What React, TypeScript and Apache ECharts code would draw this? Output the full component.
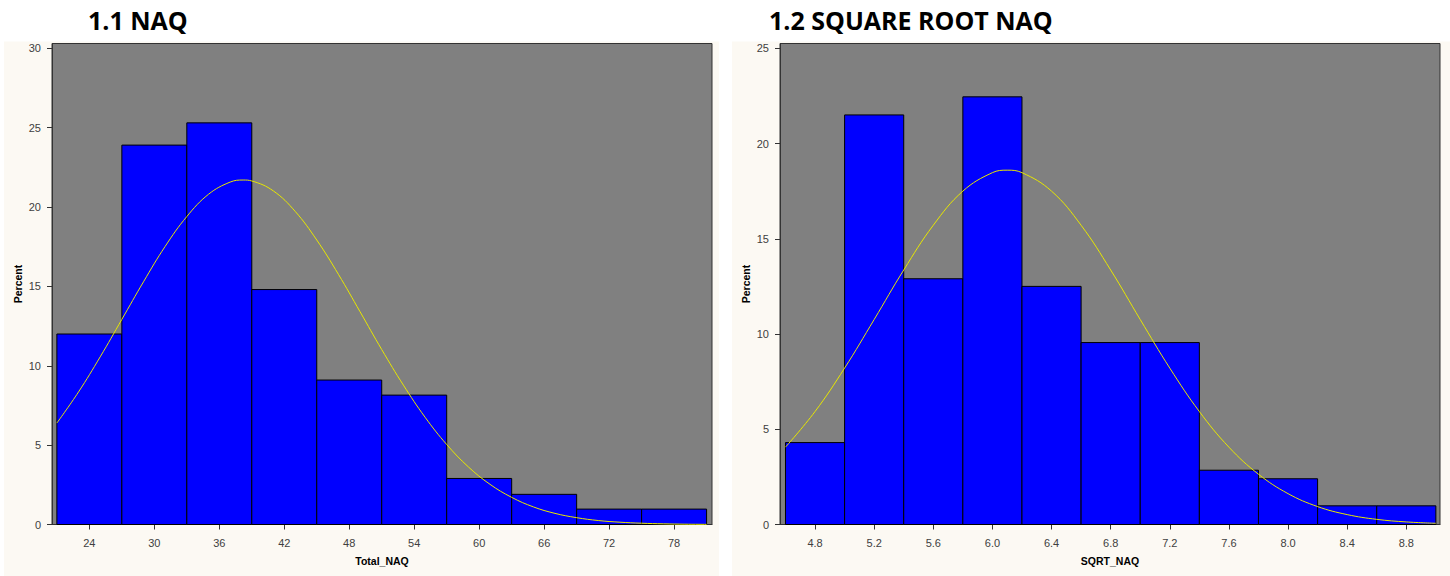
import React, { useEffect, useRef } from "react";
import * as echarts from "echarts";

// ---------- data ----------
const naqBinCenters = [24, 30, 36, 42, 48, 54, 60, 66, 72, 78];
const naqBinWidth = 6;
const naqPercent = [12.0, 23.9, 25.3, 14.8, 9.1, 8.15, 2.9, 1.9, 0.97, 0.97];
const naqCurveX = [21, 23, 25, 27, 29, 31, 33, 35, 37, 38.2, 39, 41, 43, 45, 47, 49, 51, 53, 55, 57, 59, 61, 63, 65, 67, 69, 71, 73, 75, 77, 79, 81];
const naqCurveY = [6.39, 8.35, 10.56, 12.92, 15.29, 17.52, 19.4, 20.8, 21.57, 21.7, 21.64, 21.01, 19.73, 17.92, 15.76, 13.4, 11.02, 8.78, 6.76, 5.04, 3.63, 2.53, 1.71, 1.11, 0.7, 0.43, 0.25, 0.145, 0.08, 0.043, 0.02, 0.01];
const naqTicks = [24, 30, 36, 42, 48, 54, 60, 66, 72, 78];
const naqYTicks = [0, 5, 10, 15, 20, 25, 30];

const sqrtBinCenters = [4.8, 5.2, 5.6, 6.0, 6.4, 6.8, 7.2, 7.6, 8.0, 8.4, 8.8];
const sqrtBinWidth = 0.4;
const sqrtPercent = [4.3, 21.5, 12.9, 22.45, 12.5, 9.55, 9.55, 2.85, 2.4, 0.98, 0.98];
const sqrtCurveX = [4.6, 4.8, 5.0, 5.2, 5.4, 5.6, 5.8, 6.0, 6.1, 6.2, 6.4, 6.6, 6.8, 7.0, 7.2, 7.4, 7.6, 7.8, 8.0, 8.2, 8.4, 8.6, 8.8, 9.0];
const sqrtCurveY = [4.06, 5.93, 8.21, 10.76, 13.36, 15.71, 17.5, 18.47, 18.6, 18.47, 17.5, 15.71, 13.36, 10.76, 8.21, 5.93, 4.06, 2.64, 1.62, 0.94, 0.52, 0.27, 0.135, 0.063];
const sqrtTicks = [4.8, 5.2, 5.6, 6.0, 6.4, 6.8, 7.2, 7.6, 8.0, 8.4, 8.8];
const sqrtYTicks = [0, 5, 10, 15, 20, 25];

const titles = ["1.1 NAQ", "1.2 SQUARE ROOT NAQ"];
const xNames = ["Total_NAQ", "SQRT_NAQ"];
const yName = "Percent";

// ---------- helpers ----------
function binData(centers: number[], width: number, values: number[]) {
  return centers.map((c, i) => [c - width / 2, c + width / 2, values[i]]);
}

function renderBar(params: any, api: any) {
  const x0 = api.value(0);
  const x1 = api.value(1);
  const v = api.value(2);
  const p0 = api.coord([x0, v]);
  const p1 = api.coord([x1, 0]);
  return {
    type: "rect",
    shape: { x: p0[0], y: p0[1], width: p1[0] - p0[0], height: p1[1] - p0[1] },
    style: { fill: "#0000ff", stroke: "#000000", lineWidth: 1 },
  };
}

const labelStyle = { color: "#404040", fontSize: 11, fontFamily: "Liberation Sans, Arial, sans-serif" };
const nameStyle = { color: "#000", fontSize: 10.5, fontWeight: "bold", fontFamily: "Liberation Sans, Arial, sans-serif" };

function xAxis(gridIndex: number, min: number, max: number, ticks: number[], name: string, dec: number) {
  return {
    type: "value",
    gridIndex,
    min,
    max,
    name,
    nameLocation: "middle",
    nameGap: 31,
    nameMoveOverlap: false,
    nameTextStyle: nameStyle,
    axisLine: { show: true, lineStyle: { color: "#333", width: 1 } },
    axisTick: { show: true, length: 5, lineStyle: { color: "#333" }, customValues: ticks },
    axisLabel: {
      ...labelStyle,
      margin: 13,
      customValues: ticks,
      formatter: (v: number) => v.toFixed(dec),
    },
    splitLine: { show: false },
  };
}

function yAxis(gridIndex: number, max: number, ticks: number[]) {
  return {
    type: "value",
    gridIndex,
    min: 0,
    max,
    name: yName,
    nameLocation: "middle",
    nameGap: 28.5,
    nameMoveOverlap: false,
    nameTextStyle: nameStyle,
    axisLine: { show: true, lineStyle: { color: "#333", width: 1 } },
    axisTick: { show: true, length: 5, lineStyle: { color: "#333" }, customValues: ticks },
    axisLabel: { ...labelStyle, margin: 11, customValues: ticks },
    splitLine: { show: false },
  };
}

export default function App() {
  const ref = useRef<HTMLDivElement>(null);

  useEffect(() => {
    if (!ref.current) return;
    const chart = echarts.init(ref.current, null, { renderer: "svg" });
    const option: any = {
      animation: false,
      backgroundColor: "#ffffff",
      graphic: [
        { type: "rect", z: -100, shape: { x: 4, y: 41.5, width: 715, height: 536 }, style: { fill: "#fcf9f3" }, silent: true },
        { type: "rect", z: -100, shape: { x: 732, y: 41.5, width: 718, height: 536 }, style: { fill: "#fcf9f3" }, silent: true },
        {
          type: "text",
          x: 88,
          y: 19.5,
          style: { text: titles[0], fill: "#000", fontSize: 25, fontWeight: "bold", fontFamily: "Open Sans", verticalAlign: "middle" },
        },
        {
          type: "text",
          x: 769,
          y: 19.5,
          style: { text: titles[1], fill: "#000", fontSize: 25, fontWeight: "bold", fontFamily: "Open Sans", verticalAlign: "middle" },
        },
      ],
      grid: [
        { left: 52, top: 43.5, width: 660, height: 481, show: true, backgroundColor: "#808080", borderColor: "#333", borderWidth: 1 },
        { left: 780, top: 43.5, width: 660, height: 481, show: true, backgroundColor: "#808080", borderColor: "#333", borderWidth: 1 },
      ],
      xAxis: [
        xAxis(0, 20.55, 81.5, naqTicks, xNames[0], 0),
        xAxis(1, 4.563, 9.028, sqrtTicks, xNames[1], 1),
      ],
      yAxis: [yAxis(0, 30.3, naqYTicks), yAxis(1, 25.25, sqrtYTicks)],
      series: [
        {
          type: "custom",
          xAxisIndex: 0,
          yAxisIndex: 0,
          renderItem: renderBar,
          encode: { x: [0, 1], y: 2 },
          data: binData(naqBinCenters, naqBinWidth, naqPercent),
        },
        {
          type: "line",
          xAxisIndex: 0,
          yAxisIndex: 0,
          smooth: 0.4,
          showSymbol: false,
          symbol: "none",
          lineStyle: { color: "#e8e800", width: 1 },
          data: naqCurveX.map((x, i) => [x, naqCurveY[i]]),
          z: 5,
        },
        {
          type: "custom",
          xAxisIndex: 1,
          yAxisIndex: 1,
          renderItem: renderBar,
          encode: { x: [0, 1], y: 2 },
          data: binData(sqrtBinCenters, sqrtBinWidth, sqrtPercent),
        },
        {
          type: "line",
          xAxisIndex: 1,
          yAxisIndex: 1,
          smooth: 0.4,
          showSymbol: false,
          symbol: "none",
          lineStyle: { color: "#e8e800", width: 1 },
          data: sqrtCurveX.map((x, i) => [x, sqrtCurveY[i]]),
          z: 5,
        },
      ],
    };
    chart.setOption(option);
    return () => chart.dispose();
  }, []);

  return (
    <div
      ref={ref}
      style={{ position: "fixed", left: 0, top: 0, width: 1450, height: 576, background: "#fff" }}
    />
  );
}
